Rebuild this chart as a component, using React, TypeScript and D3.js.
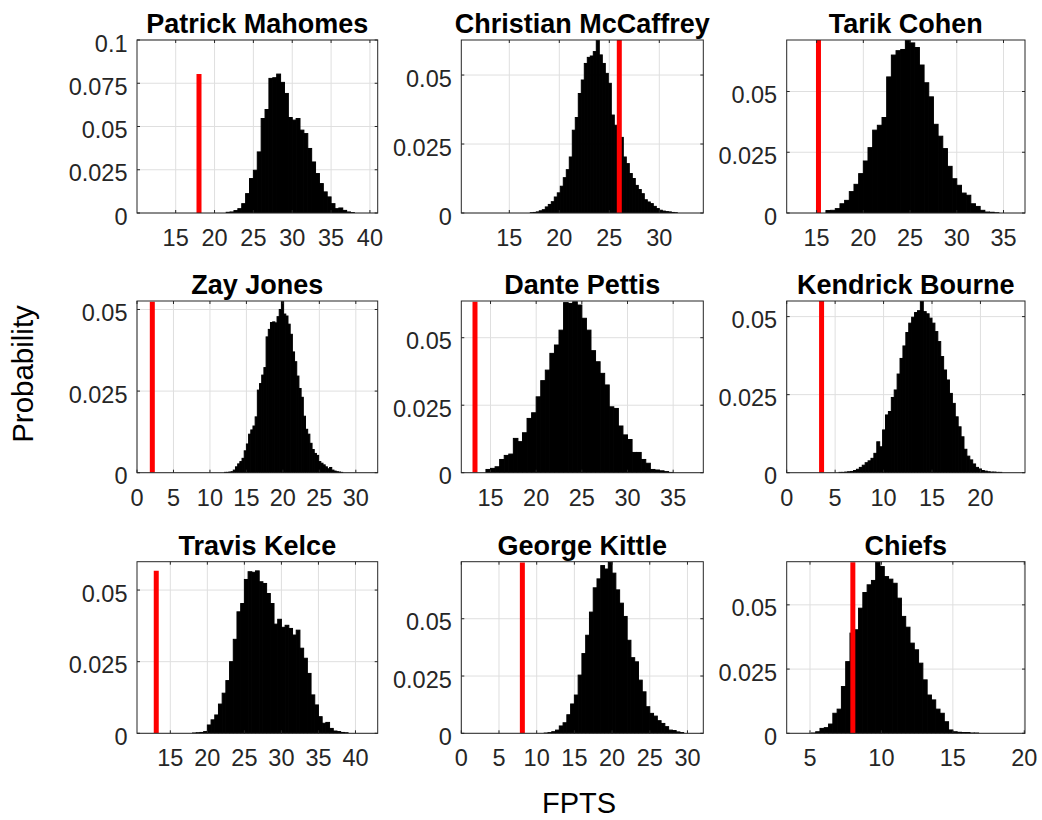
import React from "react";
import * as d3 from "d3";

const panelTitles = [
  "Patrick Mahomes", "Christian McCaffrey", "Tarik Cohen",
  "Zay Jones", "Dante Pettis", "Kendrick Bourne",
  "Travis Kelce", "George Kittle", "Chiefs",
];
const binWidths = [0.5, 0.3, 0.5, 0.3, 0.5, 0.3, 0.5, 0.5, 0.3];
const binStarts = [21.5, 17.1, 16.0, 12.0, 14.5, 5.4, 18.0, 11.0, 5.1];

const mahomesProb = [0.0004, 0.0006, 0.0014, 0.0025, 0.0054, 0.0112, 0.0199, 0.0247, 0.0353, 0.0546, 0.0598, 0.0778, 0.0782, 0.0803, 0.0755, 0.0691, 0.0552, 0.0537, 0.0546, 0.0479, 0.0459, 0.0373, 0.0295, 0.0228, 0.0170, 0.0122, 0.0093, 0.0054, 0.0025, 0.0029, 0.0015, 0.0006, 0.0002];
const mccaffreyProb = [0.0001, 0.0002, 0.0004, 0.0008, 0.0012, 0.0022, 0.0031, 0.0041, 0.0058, 0.0073, 0.0097, 0.0128, 0.0157, 0.0203, 0.0300, 0.0346, 0.0433, 0.0482, 0.0542, 0.0564, 0.0569, 0.0585, 0.0627, 0.0573, 0.0542, 0.0506, 0.0470, 0.0355, 0.0318, 0.0300, 0.0274, 0.0203, 0.0179, 0.0143, 0.0125, 0.0100, 0.0085, 0.0070, 0.0048, 0.0040, 0.0034, 0.0024, 0.0016, 0.0010, 0.0007, 0.0005, 0.0004, 0.0002, 0.0001];
const cohenProb = [0.0010, 0.0011, 0.0018, 0.0038, 0.0052, 0.0088, 0.0118, 0.0162, 0.0214, 0.0269, 0.0341, 0.0361, 0.0393, 0.0560, 0.0650, 0.0668, 0.0673, 0.0712, 0.0700, 0.0681, 0.0609, 0.0536, 0.0478, 0.0365, 0.0316, 0.0265, 0.0192, 0.0141, 0.0114, 0.0082, 0.0073, 0.0038, 0.0027, 0.0011, 0.0004, 0.0003, 0.0001];
const zayProb = [0.0001, 0.0001, 0.0002, 0.0003, 0.0008, 0.0018, 0.0027, 0.0034, 0.0044, 0.0067, 0.0088, 0.0118, 0.0131, 0.0143, 0.0171, 0.0253, 0.0273, 0.0299, 0.0322, 0.0416, 0.0439, 0.0460, 0.0462, 0.0459, 0.0478, 0.0500, 0.0524, 0.0486, 0.0480, 0.0455, 0.0424, 0.0370, 0.0340, 0.0296, 0.0258, 0.0231, 0.0173, 0.0133, 0.0118, 0.0090, 0.0071, 0.0059, 0.0053, 0.0034, 0.0029, 0.0024, 0.0018, 0.0012, 0.0016, 0.0008, 0.0005, 0.0003, 0.0002, 0.0001];
const pettisProb = [0.0012, 0.0016, 0.0022, 0.0049, 0.0064, 0.0069, 0.0127, 0.0115, 0.0148, 0.0201, 0.0222, 0.0281, 0.0341, 0.0380, 0.0442, 0.0473, 0.0528, 0.0630, 0.0627, 0.0633, 0.0621, 0.0572, 0.0528, 0.0452, 0.0411, 0.0368, 0.0325, 0.0244, 0.0238, 0.0173, 0.0140, 0.0123, 0.0075, 0.0075, 0.0049, 0.0035, 0.0012, 0.0010, 0.0007, 0.0004, 0.0001];
const bourneProb = [0.0001, 0.0001, 0.0002, 0.0003, 0.0004, 0.0007, 0.0011, 0.0017, 0.0024, 0.0032, 0.0038, 0.0046, 0.0062, 0.0099, 0.0083, 0.0137, 0.0185, 0.0196, 0.0241, 0.0265, 0.0316, 0.0366, 0.0406, 0.0449, 0.0479, 0.0498, 0.0513, 0.0519, 0.0550, 0.0516, 0.0509, 0.0495, 0.0479, 0.0452, 0.0420, 0.0372, 0.0329, 0.0297, 0.0254, 0.0222, 0.0179, 0.0147, 0.0115, 0.0075, 0.0053, 0.0041, 0.0028, 0.0017, 0.0012, 0.0007, 0.0005, 0.0003, 0.0002, 0.0002, 0.0001, 0.0001];
const kelceProb = [0.0001, 0.0002, 0.0003, 0.0006, 0.0029, 0.0047, 0.0064, 0.0102, 0.0140, 0.0184, 0.0250, 0.0328, 0.0424, 0.0453, 0.0537, 0.0564, 0.0562, 0.0567, 0.0529, 0.0523, 0.0488, 0.0453, 0.0381, 0.0398, 0.0370, 0.0377, 0.0366, 0.0343, 0.0360, 0.0297, 0.0262, 0.0209, 0.0134, 0.0099, 0.0058, 0.0035, 0.0038, 0.0017, 0.0008, 0.0006, 0.0003, 0.0002];
const kittleProb = [0.0001, 0.0003, 0.0007, 0.0014, 0.0032, 0.0046, 0.0081, 0.0128, 0.0167, 0.0254, 0.0348, 0.0428, 0.0529, 0.0635, 0.0674, 0.0732, 0.0717, 0.0746, 0.0699, 0.0626, 0.0568, 0.0510, 0.0406, 0.0330, 0.0312, 0.0232, 0.0181, 0.0116, 0.0087, 0.0075, 0.0055, 0.0043, 0.0029, 0.0014, 0.0012, 0.0006, 0.0003];
const chiefsProb = [0.0001, 0.0006, 0.0019, 0.0022, 0.0036, 0.0078, 0.0094, 0.0182, 0.0279, 0.0390, 0.0403, 0.0487, 0.0548, 0.0578, 0.0595, 0.0666, 0.0649, 0.0610, 0.0600, 0.0584, 0.0526, 0.0455, 0.0413, 0.0351, 0.0325, 0.0273, 0.0208, 0.0149, 0.0130, 0.0094, 0.0078, 0.0045, 0.0013, 0.0006, 0.0004, 0.0003, 0.0003, 0.0001, 0.0001];

const panelProbs = [mahomesProb, mccaffreyProb, cohenProb, zayProb, pettisProb, bourneProb, kelceProb, kittleProb, chiefsProb];

const actualFpts = [18.0, 26.0, 15.2, 2.1, 13.3, 3.6, 13.1, 8.1, 8.0];

const xLimits = [
  [10.02, 41], [10.2, 34.4], [11.8, 37.3],
  [0, 33], [11.8, 38.3], [0, 24.6],
  [10.5, 43], [0, 32.1], [3.37, 20.05],
];
const yLimits = [0.1, 0.0627, 0.0712, 0.0526, 0.0636, 0.055, 0.0599, 0.0749, 0.0668];
const xTicks = [
  [15, 20, 25, 30, 35, 40], [15, 20, 25, 30], [15, 20, 25, 30, 35],
  [0, 5, 10, 15, 20, 25, 30], [15, 20, 25, 30, 35], [0, 5, 10, 15, 20],
  [15, 20, 25, 30, 35, 40], [0, 5, 10, 15, 20, 25, 30], [5, 10, 15, 20],
];
const yTicksWide = [0, 0.025, 0.05, 0.075, 0.1];
const yTicksNarrow = [0, 0.025, 0.05];

const xLabel = "FPTS";
const yLabel = "Probability";

const colLefts = [137, 461.3, 786.7];
const colRights = [377.7, 703.3, 1025];
const rowTops = [40, 301, 561.7];
const rowBottoms = [213, 472.7, 733.3];

const FONT = "'Liberation Sans', Arial, Helvetica, sans-serif";
const AXIS_COLOR = "#262626";
const GRID_COLOR = "#dfdfdf";
const TICK_LEN = 3;

function Panel({ idx }: { idx: number }) {
  const col = idx % 3;
  const row = Math.floor(idx / 3);
  const x0 = colLefts[col], x1 = colRights[col];
  const y0 = rowTops[row], y1 = rowBottoms[row];
  const xs = d3.scaleLinear().domain(xLimits[idx]).range([x0, x1]);
  const ys = d3.scaleLinear().domain([0, yLimits[idx]]).range([y1, y0]);
  const probs = panelProbs[idx];
  const bw = binWidths[idx];
  const start = binStarts[idx];
  const bins = probs.map((p, i) => ({ a: start + i * bw, b: start + (i + 1) * bw, p }));
  const maxP = d3.max(probs) as number;
  const yt = idx === 0 ? yTicksWide : yTicksNarrow;
  const xt = xTicks[idx];
  const clipId = `clip-${idx}`;
  return (
    <g>
      <defs>
        <clipPath id={clipId}>
          <rect x={x0} y={y0} width={x1 - x0} height={y1 - y0} />
        </clipPath>
      </defs>
      <rect x={x0} y={y0} width={x1 - x0} height={y1 - y0} fill="#fff" />
      {xt.map((t) => (
        <line key={`gx${t}`} x1={xs(t)} x2={xs(t)} y1={y0} y2={y1} stroke={GRID_COLOR} strokeWidth={1} />
      ))}
      {yt.map((t) => (
        <line key={`gy${t}`} x1={x0} x2={x1} y1={ys(t)} y2={ys(t)} stroke={GRID_COLOR} strokeWidth={1} />
      ))}
      <g clipPath={`url(#${clipId})`}>
        {bins.map((d, i) => (
          <rect
            key={i}
            x={xs(d.a)}
            y={ys(d.p)}
            width={xs(d.b) - xs(d.a)}
            height={ys(0) - ys(d.p)}
            fill="#000"
            stroke="#000"
            strokeWidth={1}
          />
        ))}
        <line
          x1={xs(actualFpts[idx])}
          x2={xs(actualFpts[idx])}
          y1={ys(0)}
          y2={ys(maxP)}
          stroke="#ff0000"
          strokeWidth={5}
        />
      </g>
      <rect x={x0} y={y0} width={x1 - x0} height={y1 - y0} fill="none" stroke={AXIS_COLOR} strokeWidth={1} />
      {xt.map((t) => (
        <g key={`tx${t}`}>
          <line x1={xs(t)} x2={xs(t)} y1={y1} y2={y1 - TICK_LEN} stroke={AXIS_COLOR} />
          <line x1={xs(t)} x2={xs(t)} y1={y0} y2={y0 + TICK_LEN} stroke={AXIS_COLOR} />
          <text x={xs(t)} y={y1 + 33} textAnchor="middle" fontFamily={FONT} fontSize={23.5} fill={AXIS_COLOR}>
            {String(t)}
          </text>
        </g>
      ))}
      {yt.map((t) => (
        <g key={`ty${t}`}>
          <line x1={x0} x2={x0 + TICK_LEN} y1={ys(t)} y2={ys(t)} stroke={AXIS_COLOR} />
          <line x1={x1} x2={x1 - TICK_LEN} y1={ys(t)} y2={ys(t)} stroke={AXIS_COLOR} />
          <text x={x0 - 9.5} y={ys(t) + 11.5} textAnchor="end" fontFamily={FONT} fontSize={23.5} fill={AXIS_COLOR}>
            {String(t)}
          </text>
        </g>
      ))}
      <text x={(x0 + x1) / 2} y={y0 - 7} textAnchor="middle" fontFamily={FONT} fontSize={27} fontWeight="bold" fill="#000">
        {panelTitles[idx]}
      </text>
    </g>
  );
}

export default function App() {
  return (
    <svg
      width={1042}
      height={820}
      viewBox="0 0 1042 820"
      style={{ position: "absolute", left: 0, top: 0, display: "block", background: "#fff" }}
    >
      <rect x={0} y={0} width={1042} height={820} fill="#fff" />
      {panelTitles.map((_, i) => (
        <Panel key={i} idx={i} />
      ))}
      <text x={579} y={813} textAnchor="middle" fontFamily={FONT} fontSize={29} fill="#000">
        {xLabel}
      </text>
      <text
        transform="translate(33.3,374) rotate(-90)"
        textAnchor="middle"
        fontFamily={FONT}
        fontSize={29.5}
        fill="#000"
      >
        {yLabel}
      </text>
    </svg>
  );
}
